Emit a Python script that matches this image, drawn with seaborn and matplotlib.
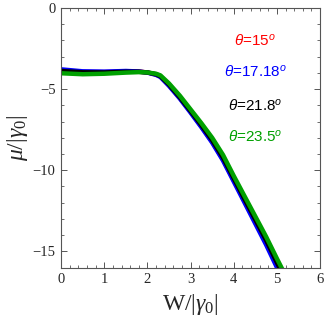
import numpy as np
import pandas as pd
import matplotlib
matplotlib.use("Agg")
import matplotlib.pyplot as plt
import seaborn as sns
from matplotlib.ticker import MultipleLocator

# values
w_green = [0, 0.5, 1.0, 1.5, 1.8, 2.0, 2.2, 2.3, 2.5, 2.75, 3.0, 3.25, 3.5, 3.75, 4.0, 4.25, 4.5, 4.75, 5.0, 5.2]
mu_green = [-4.02, -4.08, -4.05, -3.98, -3.95, -3.97, -4.05, -4.15, -4.65, -5.4, -6.25, -7.1, -8.0, -9.05, -10.35, -11.6, -12.85, -14.1, -15.45, -16.5]

w_black = [0, 0.5, 1.0, 1.5, 1.8, 2.0, 2.2, 2.3, 2.5, 2.75, 3.0, 3.25, 3.5, 3.75, 4.0, 4.25, 4.5, 4.75, 5.0, 5.2]
mu_black = [-3.88, -3.96, -3.97, -3.93, -3.93, -3.97, -4.08, -4.2, -4.72, -5.5, -6.35, -7.22, -8.15, -9.22, -10.5, -11.78, -13.05, -14.32, -15.7, -16.8]

w_blue = [0, 0.5, 1.0, 1.5, 1.8, 2.0, 2.2, 2.3, 2.5, 2.75, 3.0, 3.25, 3.5, 3.75, 4.0, 4.25, 4.5, 4.75, 5.0, 5.2]
mu_blue = [-3.78, -3.9, -3.92, -3.88, -3.91, -3.98, -4.12, -4.25, -4.8, -5.58, -6.45, -7.35, -8.3, -9.4, -10.7, -12.0, -13.3, -14.6, -16.0, -17.0]

w_red = [0, 0.5, 1.0, 1.5, 1.8, 2.0, 2.2, 2.3, 2.5, 2.75, 3.0, 3.25, 3.5, 3.75, 4.0, 4.25, 4.5, 4.75, 5.0, 5.2]
mu_red = [-3.85, -3.94, -3.95, -3.91, -3.92, -3.97, -4.1, -4.22, -4.76, -5.54, -6.4, -7.3, -8.25, -9.33, -10.62, -11.9, -13.2, -14.48, -15.88, -16.9]

labels = [r"$\mathsf{\theta}$=15$^{\mathsf{o}}$", r"$\mathsf{\theta}$=17.18$^{\mathsf{o}}$",
          r"$\mathsf{\theta}$=21.8$^{\mathsf{o}}$", r"$\mathsf{\theta}$=23.5$^{\mathsf{o}}$"]
colors = ["#ff0000", "#0000ff", "#000000", "#00a000"]

frames = []
for lab, w, mu in zip(labels, [w_red, w_blue, w_black, w_green], [mu_red, mu_blue, mu_black, mu_green]):
    frames.append(pd.DataFrame({"W": w, "mu": mu, "theta": lab}))
df = pd.concat(frames, ignore_index=True)

sns.set_style("ticks")
plt.rcParams["mathtext.fontset"] = "custom"
plt.rcParams["mathtext.rm"] = "Liberation Serif"
plt.rcParams["mathtext.it"] = "Liberation Serif:italic"
plt.rcParams["mathtext.sf"] = "Liberation Sans:italic"
plt.rcParams["font.family"] = ["Liberation Serif", "DejaVu Serif"]

fig = plt.figure(figsize=(3.25, 3.22), dpi=100)
ax = fig.add_axes([0.188, 0.169, 0.797, 0.806])

sns.lineplot(data=df, x="W", y="mu", hue="theta", hue_order=labels,
             palette=colors, linewidth=3.2, legend=False, ax=ax, sort=False)

ax.set_xlim(0, 6)
ax.set_ylim(-16, 0)
ax.xaxis.set_major_locator(MultipleLocator(1))
ax.xaxis.set_minor_locator(MultipleLocator(0.2))
ax.yaxis.set_minor_locator(MultipleLocator(1))
ax.set_yticks([-15, -10, -5, 0])
ax.set_yticklabels(["\u221215", "\u221210", "\u22125", "0"])
ax.tick_params(which="both", direction="in", top=True, right=True,
               color="#555555", labelsize=10.5, pad=4)
ax.tick_params(which="major", length=4, width=0.7)
ax.tick_params(which="minor", length=2, width=0.6)
for s in ax.spines.values():
    s.set_color("#555555")
    s.set_linewidth(0.8)

ax.set_xlabel(r"W/|$\gamma_0$|", fontsize=17, labelpad=4)
ax.set_ylabel(r"$\mu$/|$\gamma_0$|", fontsize=17, labelpad=2)

ty = [-2.02, -3.94, -6.0, -7.9]
for lab, c, y in zip(labels, colors, ty):
    ax.text(4.5, y, lab, color=c, fontsize=11, ha="center", va="center",
            family=["Liberation Sans", "DejaVu Sans"])

fig.savefig("out.png", dpi=100)
